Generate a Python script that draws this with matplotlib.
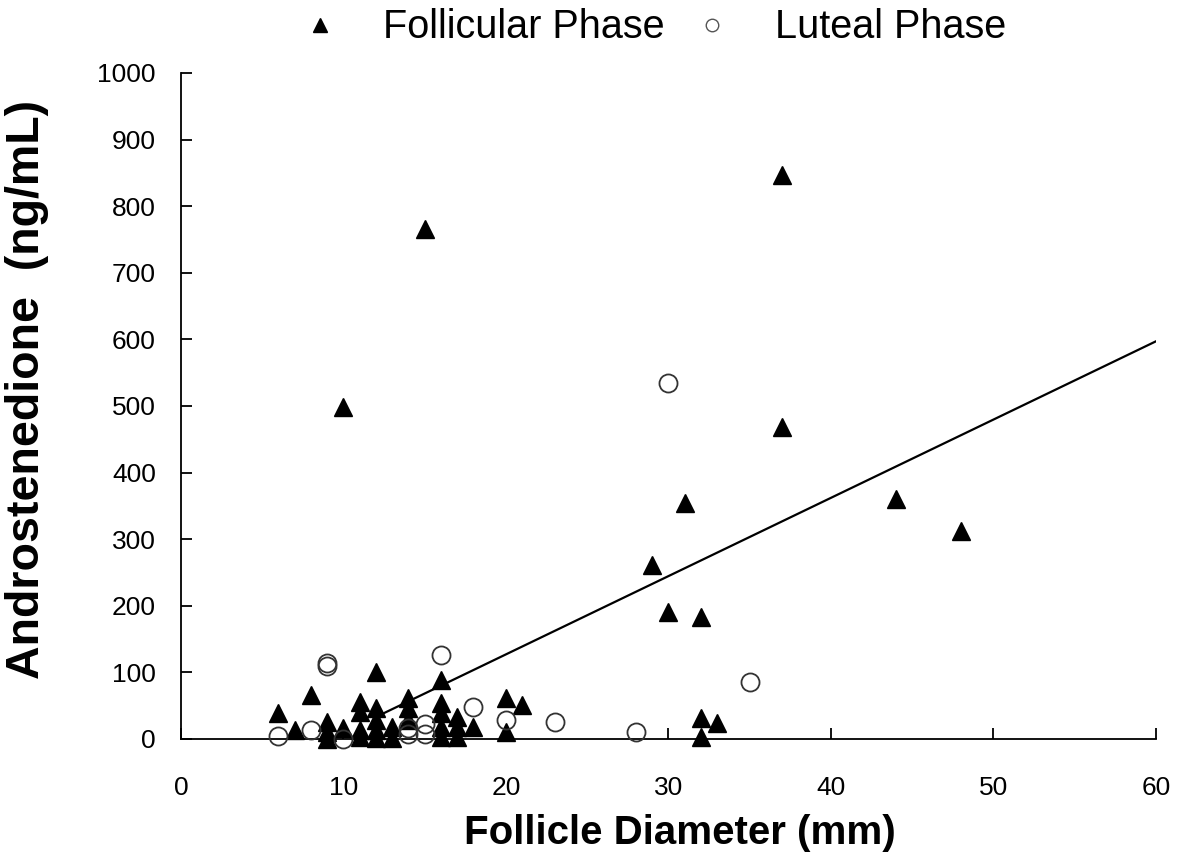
import matplotlib
matplotlib.use("Agg")
import matplotlib.pyplot as plt
from matplotlib.lines import Line2D

plt.rcParams['font.family'] = ['Liberation Sans', 'DejaVu Sans']

# Follicular phase (triangles): diameter (mm), androstenedione (ng/mL)
foll_x = [6, 7, 8, 9, 9, 9, 10, 10, 11, 11, 11, 11, 12, 12, 12, 12, 12,
          13, 13, 14, 14, 14, 15, 16, 16, 16, 16, 16, 17, 17, 17, 18,
          20, 20, 21, 29, 30, 31, 32, 32, 32, 33, 37, 37, 44, 48]
foll_y = [39, 14, 66, 25, 10, 0, 16, 498, 56, 41, 14, 3, 101, 47, 29, 14, 2,
          18, 2, 62, 46, 28, 765, 89, 54, 39, 18, 3, 33, 18, 3, 18,
          62, 11, 51, 261, 191, 354, 183, 32, 3, 24, 847, 468, 360, 312]

# Luteal phase (open circles)
lut_x = [6, 8, 9, 9, 10, 14, 14, 15, 15, 16, 18, 20, 23, 28, 30, 35]
lut_y = [5, 14, 114, 110, 0, 17, 8, 22, 8, 126, 48, 29, 26, 11, 535, 86]

# regression line end points
fit_x = [12, 60]
fit_y = [33, 597]

fig = plt.figure(figsize=(11.9, 8.58), dpi=100)
ax = fig.add_axes([0.152, 0.1387, 0.8193, 0.7763])

ax.plot(fit_x, fit_y, color='black', linewidth=1.6, zorder=2)
ax.plot(foll_x, foll_y, linestyle='none', marker='^', markersize=12.5,
        color='black', clip_on=False, zorder=3)
ax.plot(lut_x, lut_y, linestyle='none', marker='o', markersize=13,
        markerfacecolor='none', markeredgecolor='#333333',
        markeredgewidth=1.3, clip_on=False, zorder=4)

ax.set_xlim(0, 60)
ax.set_ylim(0, 1000)
ax.set_xticks(range(0, 61, 10))
ax.set_yticks(range(0, 1001, 100))
for s in ['top', 'right']:
    ax.spines[s].set_visible(False)
for s in ['left', 'bottom']:
    ax.spines[s].set_linewidth(1.3)
ax.tick_params(axis='both', direction='in', length=8, width=1.3, labelsize=19)
ax.tick_params(axis='x', pad=27)
ax.tick_params(axis='y', pad=18)

ax.set_xlabel('Follicle Diameter (mm)', fontsize=29, fontweight='bold')
ax.set_ylabel('Androstenedione  (ng/mL)', fontsize=33.5, fontweight='bold')
ax.xaxis.set_label_coords(0.512, -0.112)
ax.yaxis.set_label_coords(-0.135, 0.525)

handles = [Line2D([], [], linestyle='none', marker='^', markersize=10, color='black'),
           Line2D([], [], linestyle='none', marker='o', markersize=9,
                  markerfacecolor='none', markeredgecolor='#555555')]
fig.legend(handles, ['Follicular Phase', 'Luteal Phase'], ncol=2, frameon=False,
           loc='center', bbox_to_anchor=(0.549, 0.968), fontsize=28.5,
           handlelength=1, handletextpad=1.1, columnspacing=0.7)

fig.savefig('out.png', dpi=100)
